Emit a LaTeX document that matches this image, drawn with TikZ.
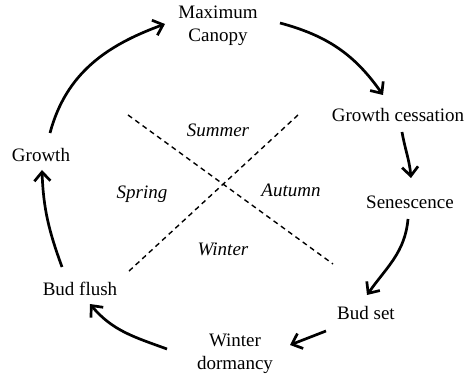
\documentclass[tikz,border=0pt]{standalone}
\usepackage{fontspec}
\setmainfont{Liberation Serif}
\usetikzlibrary{calc,arrows.meta}

\tikzset{
  stage/.style={inner sep=0pt,align=center,font=\fontsize{19}{23}\selectfont},
  season/.style={stage,font=\fontsize{19}{23}\selectfont\itshape},
  cyc/.style={-{Straight Barb[length=9pt,width=16pt]},line width=2.7pt},
  divide/.style={line width=1.4pt,dash pattern=on 5pt off 4pt}
}

\begin{document}
\begin{tikzpicture}[x=1pt,y=1pt]
        \useasboundingbox (0,0) rectangle (470,377);
        % stages
        \node[stage] (maxc) at (218,351) {Maximum\\Canopy};
        \node[stage] (gc) at (398,262) {Growth cessation};
        \node[stage] (sen) at (410,175) {Senescence};
        \node[stage] (bset) at (366,64) {Bud set};
        \node[stage] (wd) at (235,23) {Winter\\dormancy};
        \node[stage] (bf) at (80,88) {Bud flush};
        \node[stage] (grow) at (41,222) {Growth};

        % seasons
        \node[season] (summer) at (218,247) {Summer};
        \node[season] (spring) at (142,183) {Spring};
        \node[season] (autumn) at (291,187) {Autumn};
        \node[season] (winter) at (223,128) {Winter};

        \coordinate (d1a) at (128,262);
        \coordinate (d1b) at (333,113);
        \coordinate (d2a) at (298,262);
        \coordinate (d2b) at (128,105);
        \draw[divide] (d1a) -- (d1b);
        \draw[divide] (d2a) -- (d2b);

        % cycle
        \draw[cyc] ([shift={(9,22)}]grow.center) to[out=75,in=200] ([shift={(-53,2)}]maxc.center);
        \draw[cyc] ([shift={(62,3)}]maxc.center) to[out=-15,in=125] ([shift={(-15,20)}]gc.center);
        \draw[cyc] ([shift={(4,-17)}]gc.center) to[out=-80,in=95] ([shift={(1,24)}]sen.center);
        \draw[cyc] ([shift={(-2,-17)}]sen.center) to[out=-95,in=55] ([shift={(1,18)}]bset.center);
        \draw[cyc] ([shift={(-40,-18)}]bset.center) -- ([shift={(55,9)}]wd.center);
        \draw[cyc] ([shift={(-68,5)}]wd.center) to[out=160,in=-50] ([shift={(10,-15)}]bf.center);
        \draw[cyc] ([shift={(-18,22)}]bf.center) to[out=110,in=-88] ([shift={(1,-15)}]grow.center);
      \end{tikzpicture}
\end{document}
